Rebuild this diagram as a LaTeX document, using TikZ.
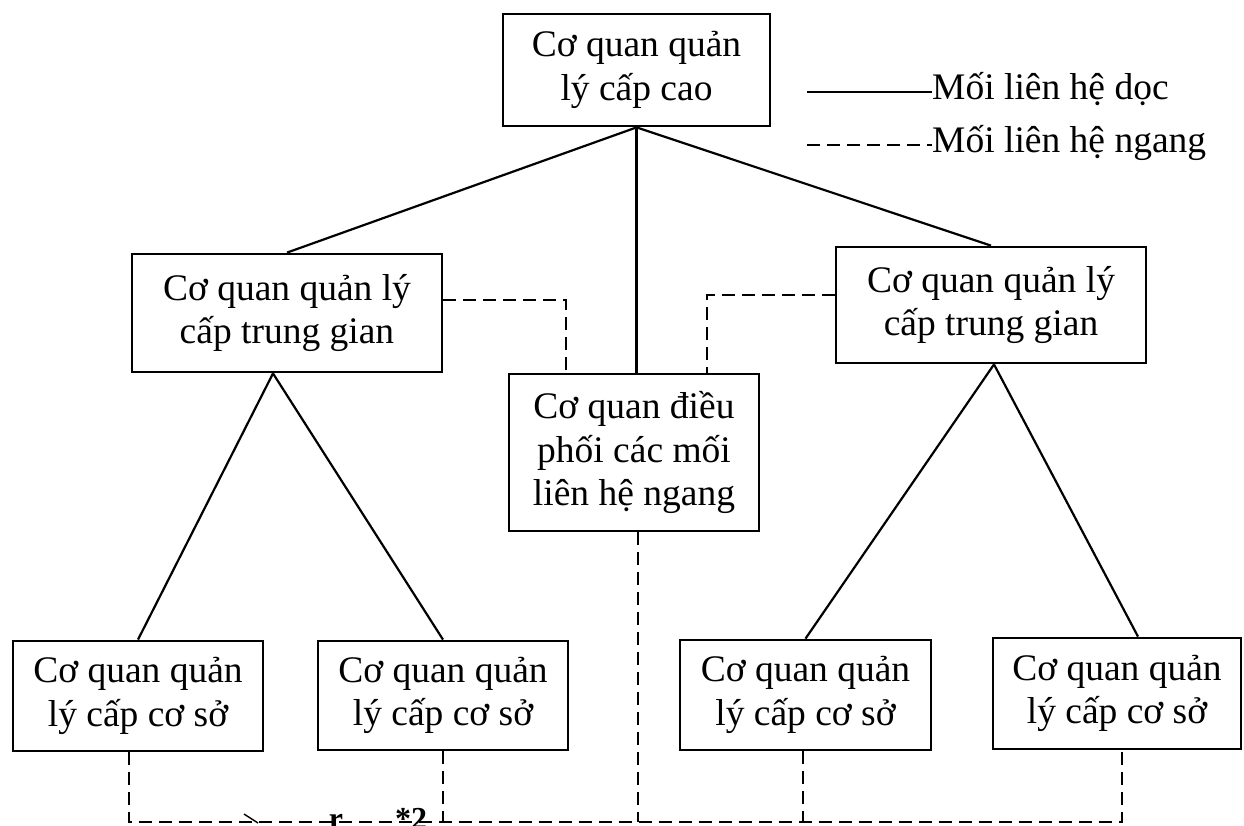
\documentclass[tikz,border=0pt]{standalone}
\usepackage{fontspec}
\setmainfont{Liberation Serif}
\begin{document}
\begin{tikzpicture}[x=1pt,y=-1pt,
  txt/.style={font=\fontsize{37.5}{43.5}\selectfont},
  box/.style={txt, draw, line width=2.8pt, align=center, inner sep=0pt},
  link/.style={line width=2.2pt},
  hlink/.style={line width=1.9pt, dash pattern=on 13pt off 7pt},
]
\useasboundingbox (0,0) rectangle (1244,825);

% boxes
\node[box, minimum width=267pt, minimum height=112pt] (top) at (636.5,70) {Cơ quan quản\\lý cấp cao};
\node[box, minimum width=310pt, minimum height=118pt] (L) at (287,313) {Cơ quan quản lý\\cấp trung gian};
\node[box, minimum width=310pt, minimum height=116pt] (R) at (991,305) {Cơ quan quản lý\\cấp trung gian};
\node[box, minimum width=250pt, minimum height=157pt] (C) at (634,452.5) {Cơ quan điều\\phối các mối\\liên hệ ngang};
\node[box, minimum width=250pt, minimum height=110pt] (B1) at (138,696) {Cơ quan quản\\lý cấp cơ sở};
\node[box, minimum width=250pt, minimum height=109pt] (B2) at (443,695.5) {Cơ quan quản\\lý cấp cơ sở};
\node[box, minimum width=251pt, minimum height=110pt] (B3) at (805.5,695) {Cơ quan quản\\lý cấp cơ sở};
\node[box, minimum width=248pt, minimum height=111pt] (B4) at (1117,693.5) {Cơ quan quản\\lý cấp cơ sở};

% vertical links
\draw[link] (top.south) -- (L.north);
\draw[link] (top.south) -- (R.north);
\draw[link] (top.south) -- (top.south |- C.north);
\draw[link] ([xshift=-14pt]L.south) -- (B1.north);
\draw[link] ([xshift=-14pt]L.south) -- (B2.north);
\draw[link] ([xshift=3pt]R.south) -- (B3.north);
\draw[link] ([xshift=3pt]R.south) -- ([xshift=21pt]B4.north);

% horizontal links to the coordinating body
\draw[hlink] ([yshift=13pt]L.east) -| ([xshift=-68pt]C.north);
\draw[hlink] ([yshift=10pt]R.west) -| ([xshift=73pt]C.north);

% bottom horizontal bus
\coordinate (busR) at (1122,822);
\draw[hlink] ([xshift=-9pt]B1.south) |- (busR) -- ([xshift=5pt]B4.south);
\draw[hlink] (B2.south) -- (B2.south |- busR);
\draw[hlink] ([xshift=4pt]C.south) -- ([xshift=4pt]C.south |- busR);
\draw[hlink] ([xshift=-2.5pt]B3.south) -- ([xshift=-2.5pt]B3.south |- busR);

% marks on the bus
\draw[line width=1.4pt] (244,814) -- (258,823);
\node[anchor=base, inner sep=0pt, font=\bfseries\fontsize{32}{32}\selectfont] (mr) at (336,829) {r};
\node[anchor=base, inner sep=0pt, font=\bfseries\fontsize{32}{32}\selectfont] (m2) at (411,829) {*2};

% legend
\coordinate (ls1) at (807,92);
\coordinate (ls2) at (932,92);
\coordinate (ld1) at (807,145);
\coordinate (ld2) at (932,145);
\draw[link] (ls1) -- (ls2);
\draw[hlink] (ld1) -- (ld2);
\node[txt, anchor=base west, inner sep=0pt] (lv) at (932,99) {Mối liên hệ dọc};
\node[txt, anchor=base west, inner sep=0pt] (lh) at (932,152) {Mối liên hệ ngang};
\end{tikzpicture}
\end{document}
